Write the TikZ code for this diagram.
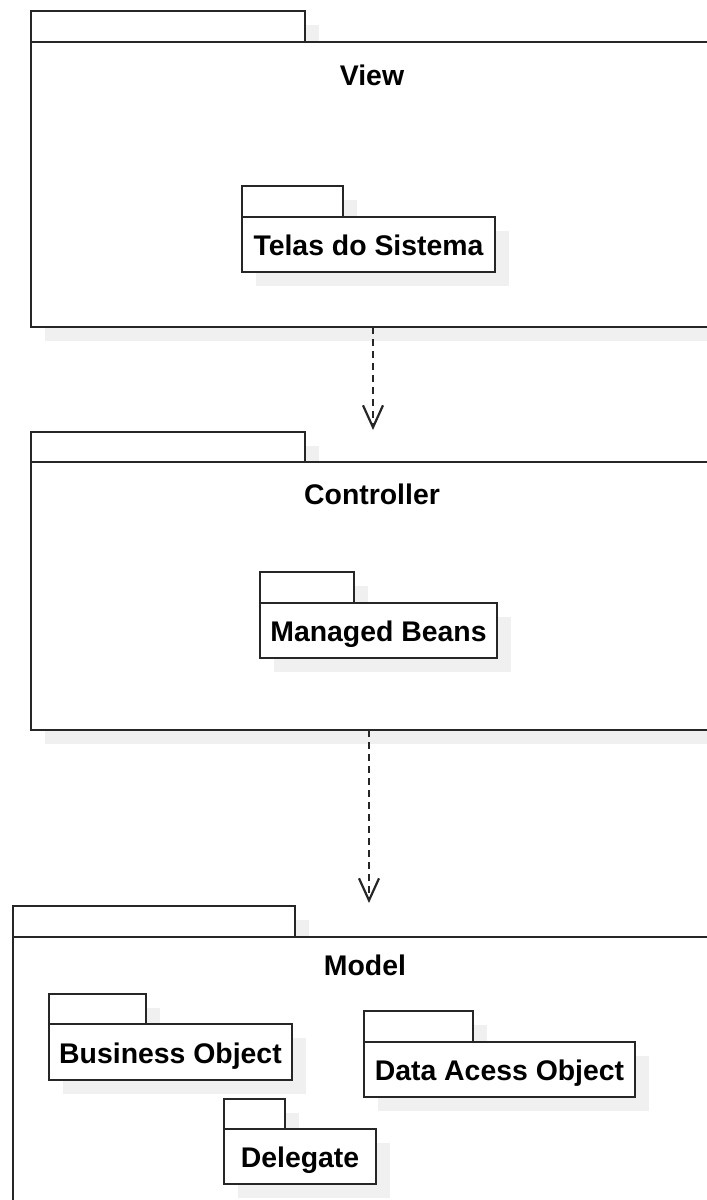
\documentclass[tikz,border=0pt]{standalone}
\usepackage{fontspec}
\setmainfont{Liberation Sans}
\usetikzlibrary{shadows,arrows.meta}

\tikzset{
  pkgshape/.style={draw=black!85, line width=2.3pt, fill=white, inner sep=0pt,
    outer sep=0pt, anchor=north west,
    drop shadow={shadow xshift=14pt, shadow yshift=-14pt, fill=black!6, opacity=1}},
  pkgtab/.style={pkgshape},
  pkgbody/.style={pkgshape, font=\fontsize{28.4}{34}\selectfont\bfseries,
    text height=22.7pt, text depth=0pt, align=center},
  pkgtitle/.style={font=\fontsize{28.4}{34}\selectfont\bfseries, anchor=base,
    inner sep=0pt},
  dep/.style={draw=black!85, line width=2.4pt, dash pattern=on 7pt off 5pt,
    -{Straight Barb[length=22pt, width=20pt, line width=2.2pt]}},
}

\begin{document}
\begin{tikzpicture}[x=1pt, y=-1pt]
  \useasboundingbox (0,0) rectangle (707,1200);
  \clip (0,0) rectangle (707,1200);

  % View layer
  \node[pkgtab, minimum width=274pt, minimum height=31pt] (viewtab) at (31,11) {};
  \node[pkgbody, minimum width=690pt, minimum height=285pt] (view) at (31,42) {};
  \node[pkgtitle] (viewlabel) at (372,85) {View};
  \node[pkgtab, minimum width=101pt, minimum height=31pt] (telastab) at (242,186) {};
  \node[pkgbody, minimum width=253pt, minimum height=55pt] (telas) at (242,217) {Telas do Sistema};

  % Controller layer
  \node[pkgtab, minimum width=274pt, minimum height=30pt] (controllertab) at (31,432) {};
  \node[pkgbody, minimum width=690pt, minimum height=268pt] (controller) at (31,462) {};
  \node[pkgtitle] (controllerlabel) at (372,504) {Controller};
  \node[pkgtab, minimum width=94pt, minimum height=31pt] (beanstab) at (260,572) {};
  \node[pkgbody, minimum width=237pt, minimum height=55pt] (beans) at (260,603) {Managed Beans};

  % Model layer
  \node[pkgtab, minimum width=282pt, minimum height=31pt] (modeltab) at (13,906) {};
  \node[pkgbody, minimum width=710pt, minimum height=300pt] (model) at (13,937) {};
  \node[pkgtitle] (modellabel) at (365,975) {Model};
  \node[pkgtab, minimum width=97pt, minimum height=30pt] (botab) at (49,994) {};
  \node[pkgbody, minimum width=243pt, minimum height=56pt] (bo) at (49,1024) {Business Object};
  \node[pkgtab, minimum width=109pt, minimum height=31pt] (daotab) at (364,1011) {};
  \node[pkgbody, minimum width=271pt, minimum height=55pt] (dao) at (364,1042) {Data Acess Object};
  \node[pkgtab, minimum width=61pt, minimum height=30pt] (delegatetab) at (224,1099) {};
  \node[pkgbody, minimum width=152pt, minimum height=55pt] (delegate) at (224,1129) {Delegate};

  % Dependencies between the layers
  \coordinate (toController) at (373,430);
  \coordinate (toModel) at (369,903);
  \draw[dep] (view.south -| toController) -- (toController);
  \draw[dep] (controller.south -| toModel) -- (toModel);
\end{tikzpicture}
\end{document}
